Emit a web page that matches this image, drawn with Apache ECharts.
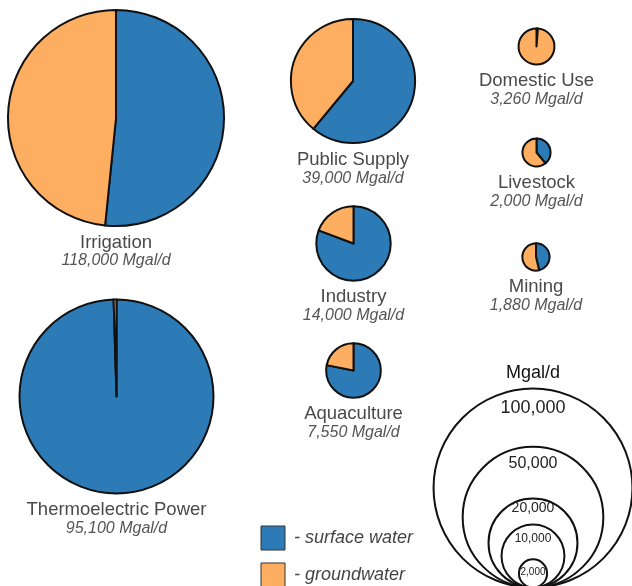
<!DOCTYPE html>
<html>
<head>
<meta charset="utf-8">
<script src="https://cdn.jsdelivr.net/npm/echarts@6/dist/echarts.min.js"></script>
<style>
html,body{margin:0;padding:0;background:#fff;}
#chart{width:632px;height:586px;}
</style>
</head>
<body>
<div id="chart"></div>
<script>
// ---- data ----
const categories = ['Irrigation', 'Thermoelectric Power', 'Public Supply', 'Industry', 'Aquaculture', 'Domestic Use', 'Livestock', 'Mining'];
const totals = [118000, 95100, 39000, 14000, 7550, 3260, 2000, 1880];
const surfaceWater = [60900, 94650, 23800, 11300, 5900, 40, 780, 870];
const groundwater = [57100, 450, 15200, 2700, 1650, 3220, 1220, 1010];
const scaleValues = [100000, 50000, 20000, 10000, 2000];
const unitLabel = 'Mgal/d';
const seriesNames = ['surface water', 'groundwater'];

// ---- layout / style ----
const BLUE = '#2c7bb6', ORANGE = '#fdae61';
const K = 0.3145; // px per sqrt(Mgal/d)
const rOf = v => K * Math.sqrt(v);
const centers = [[116, 118], [116.5, 396.5], [353, 81], [353.5, 243.5], [353.5, 370.5], [536.5, 46.5], [536.5, 152.5], [536, 257]];
const FONT = '"Liberation Sans", Arial, sans-serif';
const fmt = v => v.toLocaleString('en-US');

const series = [];
const graphics = [];

categories.forEach((name, i) => {
  const r = rOf(totals[i]);
  const [cx, cy] = centers[i];
  series.push({
    type: 'pie', name: name, center: [cx, cy], radius: [0, r],
    startAngle: 90, clockwise: true, silent: true, animation: false,
    avoidLabelOverlap: false, minAngle: 0,
    label: { show: false }, labelLine: { show: false },
    itemStyle: { borderColor: '#111', borderWidth: 2 },
    emphasis: { disabled: true },
    data: [
      { name: seriesNames[0], value: surfaceWater[i], itemStyle: { color: BLUE } },
      { name: seriesNames[1], value: groundwater[i], itemStyle: { color: ORANGE } }
    ]
  });
  const bottom = cy + r;
  graphics.push({
    type: 'text', silent: true,
    style: { x: cx, y: bottom + 16.5, text: name, font: '18.5px ' + FONT, fill: '#4a4a4a', align: 'center', verticalAlign: 'middle' }
  });
  graphics.push({
    type: 'text', silent: true,
    style: { x: cx, y: bottom + 35, text: fmt(totals[i]) + ' ' + unitLabel, font: 'italic 16px ' + FONT, fill: '#555', align: 'center', verticalAlign: 'middle' }
  });
});

// size legend (nested circles tangent at bottom)
const legCx = 533, legBottom = 587.5;
const legFont = [18, 16, 14, 12, 10];
const legTextY = [408.5, 463.5, 508, 539, 572.5];
scaleValues.forEach((v, j) => {
  const r = rOf(v);
  series.push({
    type: 'pie', center: [legCx, legBottom - r], radius: [0, r],
    silent: true, animation: false,
    label: { show: false }, labelLine: { show: false },
    itemStyle: { color: 'rgba(0,0,0,0)', borderColor: '#111', borderWidth: 2 },
    emphasis: { disabled: true },
    data: [{ value: v }]
  });
  graphics.push({
    type: 'text', silent: true,
    style: { x: legCx, y: legTextY[j], text: fmt(v), font: legFont[j] + 'px ' + FONT, fill: '#222', align: 'center', verticalAlign: 'middle' }
  });
});
graphics.push({
  type: 'text', silent: true,
  style: { x: legCx, y: 373, text: unitLabel, font: '18px ' + FONT, fill: '#111', align: 'center', verticalAlign: 'middle' }
});

// colour legend
[[BLUE, 526, 538], [ORANGE, 563, 575]].forEach((it, j) => {
  graphics.push({
    type: 'rect', silent: true,
    shape: { x: 261, y: it[1], width: 24, height: 24 },
    style: { fill: it[0], stroke: '#333', lineWidth: 1 }
  });
  graphics.push({
    type: 'text', silent: true,
    style: { x: 294, y: it[2], text: '- ' + seriesNames[j], font: 'italic 18px ' + FONT, fill: '#444', align: 'left', verticalAlign: 'middle' }
  });
});

const chart = echarts.init(document.getElementById('chart'), null, { renderer: 'canvas' });
chart.setOption({
  backgroundColor: '#fff',
  animation: false,
  series: series,
  graphic: graphics
});
</script>
</body>
</html>
